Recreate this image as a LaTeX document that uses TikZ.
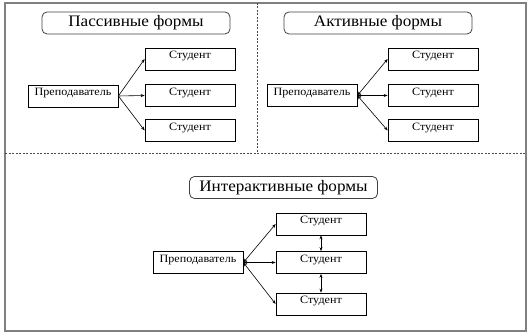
\documentclass[tikz,border=0pt]{standalone}
\usepackage{fontspec}
\setmainfont{Liberation Serif}
\usetikzlibrary{arrows.meta}
\begin{document}
\begin{tikzpicture}[x=1pt,y=-1pt,
  frame/.style={draw=black!50,line width=1.6pt},
  sep/.style={draw=black!70,line width=0.6pt,dash pattern=on 2pt off 1.5pt},
  titlebox/.style={draw=black!75,line width=0.8pt,rounded corners=5pt,minimum width=188pt,minimum height=22pt,inner sep=0pt,font=\fontsize{16}{18}\selectfont\addfontfeature{FakeStretch=1.07}},
  cbox/.style={draw,line width=0.7pt,minimum width=90pt,minimum height=22pt,inner sep=0pt,text height=8pt,text depth=8pt,font=\fontsize{11.2}{13}\selectfont\addfontfeature{FakeStretch=1.08}},
  one/.style={-{Stealth[length=4pt,width=3pt]},line width=0.6pt},
  two/.style={{Stealth[length=4pt,width=3pt]}-{Stealth[length=4pt,width=3pt]},line width=0.6pt}]
\useasboundingbox (0,0) rectangle (531,336);
\draw[frame] (5,3) rectangle (526,331);
\coordinate (h1) at (5,153);
\coordinate (h2) at (526,153);
\coordinate (v1) at (257,3);
\coordinate (v2) at (257,153);
\draw[sep] (h1) -- (h2);
\draw[sep] (v1) -- (v2);
% passive
\node[titlebox] (pt) at (136,23) {Пассивные формы};
\node[cbox] (pp) at (73,96) {Преподаватель};
\node[cbox] (ps1) at (190,59) {Студент};
\node[cbox] (ps2) at (190,95.5) {Студент};
\node[cbox] (ps3) at (190,130.5) {Студент};
\draw[one] (pp.east) -- (ps1.west);
\draw[one] (pp.east) -- (ps2.west);
\draw[one] (pp.east) -- (ps3.west);
% active
\node[titlebox] (at) at (378,23) {Активные формы};
\node[cbox] (ap) at (312,95.5) {Преподаватель};
\node[cbox] (as1) at (433,59) {Студент};
\node[cbox] (as2) at (433,95.5) {Студент};
\node[cbox] (as3) at (433,130.5) {Студент};
\draw[two] (ap.east) -- (as1.west);
\draw[two] (ap.east) -- (as2.west);
\draw[two] (ap.east) -- (as3.west);
% interactive
\node[titlebox] (it) at (283.5,187.5) {Интерактивные формы};
\node[cbox] (ip) at (198,262.5) {Преподаватель};
\node[cbox] (is1) at (321,224) {Студент};
\node[cbox] (is2) at (321,262.5) {Студент};
\node[cbox] (is3) at (321,304) {Студент};
\draw[two] (ip.east) -- (is1.west);
\draw[two] (ip.east) -- (is2.west);
\draw[two] (ip.east) -- (is3.west);
\draw[two] (is1.south) -- (is2.north);
\draw[two] (is2.south) -- (is3.north);
\end{tikzpicture}
\end{document}
